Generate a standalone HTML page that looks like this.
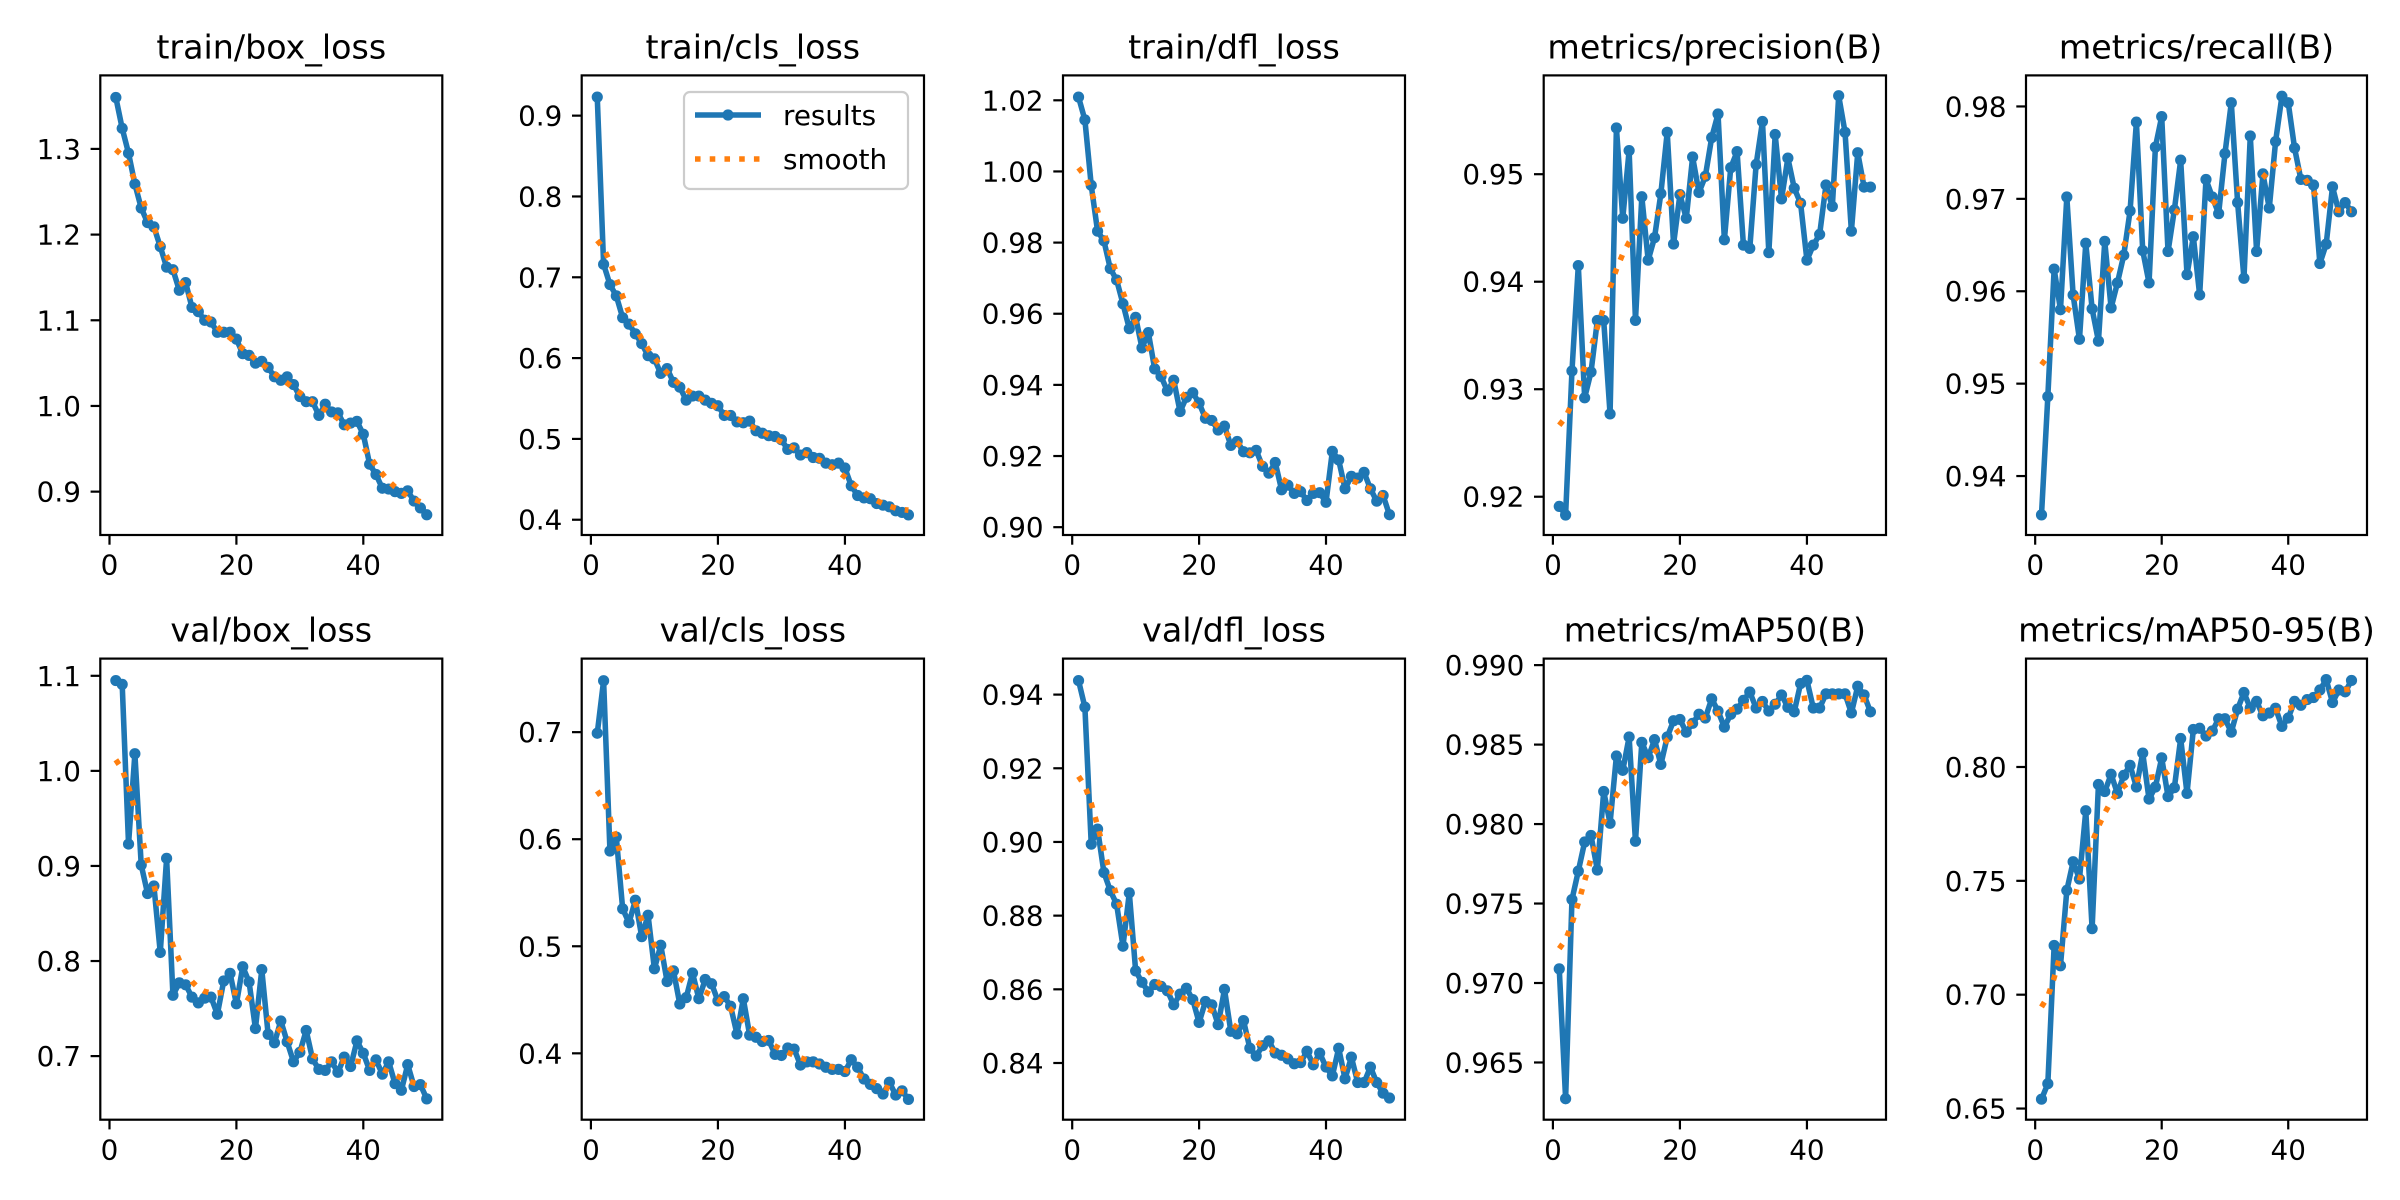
<!DOCTYPE html>
<html><head><meta charset="utf-8">
<style>
html,body{margin:0;padding:0;background:#fff;}
svg{display:block;}
text{font-family:"DejaVu Sans","Liberation Sans",sans-serif;fill:#000;}
</style></head>
<body>
<svg id="fig" width="2400" height="1200" viewBox="0 0 2400 1200" xmlns="http://www.w3.org/2000/svg"></svg>
<script>
const epochs = Array.from({length:50},(_,i)=>i+1);
const xTicks = [0,20,40];

const trainBoxLoss = [1.360,1.324,1.295,1.259,1.231,1.214,1.209,1.186,1.162,1.159,1.135,1.144,1.115,1.110,1.100,1.098,1.086,1.086,1.086,1.078,1.061,1.059,1.050,1.052,1.045,1.034,1.030,1.034,1.025,1.011,1.005,1.005,0.989,1.002,0.993,0.992,0.978,0.980,0.982,0.967,0.932,0.920,0.904,0.903,0.900,0.898,0.901,0.889,0.881,0.873];
const trainClsLoss = [0.923,0.716,0.691,0.677,0.650,0.642,0.630,0.618,0.603,0.599,0.581,0.587,0.570,0.564,0.548,0.553,0.553,0.548,0.544,0.541,0.529,0.529,0.521,0.520,0.522,0.510,0.507,0.504,0.503,0.499,0.487,0.489,0.480,0.483,0.477,0.476,0.470,0.468,0.470,0.464,0.442,0.430,0.427,0.426,0.420,0.418,0.416,0.411,0.409,0.406];
const trainDflLoss = [1.0209,1.0145,0.9961,0.9832,0.9805,0.9727,0.9695,0.9628,0.9558,0.9590,0.9504,0.9547,0.9445,0.9424,0.9383,0.9413,0.9325,0.9365,0.9378,0.9349,0.9306,0.9300,0.9273,0.9284,0.9230,0.9241,0.9212,0.9209,0.9216,0.9171,0.9152,0.9182,0.9105,0.9118,0.9095,0.9100,0.9075,0.9095,0.9097,0.9070,0.9213,0.9189,0.9108,0.9143,0.9138,0.9154,0.9108,0.9073,0.9089,0.9035];
const precisionB = [0.9191,0.9183,0.9317,0.9415,0.9292,0.9316,0.9364,0.9364,0.9277,0.9543,0.9459,0.9522,0.9364,0.9479,0.9420,0.9441,0.9482,0.9539,0.9435,0.9481,0.9459,0.9516,0.9483,0.9498,0.9534,0.9556,0.9439,0.9506,0.9521,0.9434,0.9431,0.9509,0.9549,0.9427,0.9537,0.9477,0.9515,0.9487,0.9473,0.9420,0.9434,0.9444,0.9490,0.9470,0.9573,0.9539,0.9447,0.9520,0.9488,0.9488];
const recallB = [0.9358,0.9486,0.9624,0.9580,0.9702,0.9596,0.9548,0.9652,0.9581,0.9546,0.9654,0.9582,0.9609,0.9639,0.9687,0.9783,0.9644,0.9609,0.9756,0.9789,0.9643,0.9688,0.9742,0.9618,0.9659,0.9596,0.9721,0.9702,0.9684,0.9749,0.9804,0.9696,0.9614,0.9768,0.9643,0.9727,0.9690,0.9762,0.9811,0.9804,0.9755,0.9721,0.9720,0.9715,0.9630,0.9651,0.9713,0.9686,0.9696,0.9686];
const valBoxLoss = [1.095,1.091,0.923,1.018,0.901,0.871,0.879,0.809,0.908,0.764,0.777,0.775,0.762,0.756,0.761,0.762,0.744,0.779,0.787,0.755,0.794,0.778,0.729,0.791,0.723,0.714,0.737,0.715,0.694,0.704,0.727,0.697,0.686,0.685,0.694,0.683,0.699,0.689,0.716,0.703,0.685,0.696,0.681,0.694,0.671,0.664,0.691,0.668,0.670,0.655];
const valClsLoss = [0.699,0.748,0.589,0.602,0.535,0.522,0.543,0.509,0.529,0.479,0.501,0.467,0.477,0.446,0.452,0.475,0.451,0.469,0.465,0.449,0.453,0.444,0.418,0.451,0.417,0.415,0.411,0.412,0.399,0.398,0.405,0.404,0.389,0.392,0.392,0.390,0.387,0.385,0.385,0.383,0.394,0.387,0.376,0.371,0.367,0.362,0.373,0.361,0.365,0.357];
const valDflLoss = [0.9438,0.9366,0.8994,0.9035,0.8917,0.8868,0.8831,0.8717,0.8862,0.8650,0.8619,0.8593,0.8613,0.8608,0.8596,0.8558,0.8587,0.8603,0.8572,0.8510,0.8567,0.8558,0.8504,0.8600,0.8486,0.8479,0.8515,0.8440,0.8419,0.8447,0.8460,0.8427,0.8421,0.8411,0.8398,0.8401,0.8432,0.8395,0.8427,0.8389,0.8365,0.8440,0.8357,0.8416,0.8347,0.8347,0.8389,0.8347,0.8318,0.8305];
const mAP50B = [0.97089,0.96272,0.97525,0.97704,0.97887,0.97928,0.97711,0.98205,0.98005,0.98428,0.98338,0.98548,0.97892,0.98514,0.98418,0.98531,0.98375,0.98548,0.98650,0.98658,0.98578,0.98634,0.98691,0.98667,0.98788,0.98711,0.98610,0.98691,0.98723,0.98778,0.98831,0.98730,0.98771,0.98711,0.98754,0.98812,0.98735,0.98706,0.98884,0.98904,0.98730,0.98730,0.98819,0.98819,0.98819,0.98819,0.98699,0.98867,0.98812,0.98706];
const mAP5095B = [0.6541,0.6609,0.7216,0.7127,0.7458,0.7584,0.7508,0.7808,0.7290,0.7923,0.7892,0.7968,0.7884,0.7963,0.8007,0.7912,0.8061,0.7859,0.7912,0.8040,0.7870,0.7909,0.8125,0.7884,0.8165,0.8170,0.8136,0.8158,0.8212,0.8212,0.8153,0.8254,0.8327,0.8259,0.8288,0.8225,0.8237,0.8258,0.8178,0.8215,0.8288,0.8271,0.8296,0.8305,0.8338,0.8384,0.8283,0.8338,0.8330,0.8380];

const titles = ["train/box_loss","train/cls_loss","train/dfl_loss","metrics/precision(B)","metrics/recall(B)","val/box_loss","val/cls_loss","val/dfl_loss","metrics/mAP50(B)","metrics/mAP50-95(B)"];
const yTicks1 = [0.9,1.0,1.1,1.2,1.3];
const yTicks2 = [0.4,0.5,0.6,0.7,0.8,0.9];
const yTicks3 = [0.90,0.92,0.94,0.96,0.98,1.00,1.02];
const yTicks4 = [0.92,0.93,0.94,0.95];
const yTicks5 = [0.94,0.95,0.96,0.97,0.98];
const yTicks6 = [0.7,0.8,0.9,1.0,1.1];
const yTicks7 = [0.4,0.5,0.6,0.7];
const yTicks8 = [0.84,0.86,0.88,0.90,0.92,0.94];
const yTicks9 = [0.965,0.970,0.975,0.980,0.985,0.990];
const yTicks10 = [0.65,0.70,0.75,0.80];
const yDomain1 = [0.8494,1.3858];
const yDomain2 = [0.3811,0.9498];
const yDomain3 = [0.8978,1.0270];
const yDomain4 = [0.91644,0.95919];
const yDomain5 = [0.93362,0.98336];
const yDomain6 = [0.6331,1.1181];
const yDomain7 = [0.338,0.7687];
const yDomain8 = [0.82461,0.94977];
const yDomain9 = [0.9614,0.99041];
const yDomain10 = [0.6451,0.8476];
const xDomain = [-1.45,52.45];

const series = [trainBoxLoss,trainClsLoss,trainDflLoss,precisionB,recallB,valBoxLoss,valClsLoss,valDflLoss,mAP50B,mAP5095B];
const yTicksAll = [yTicks1,yTicks2,yTicks3,yTicks4,yTicks5,yTicks6,yTicks7,yTicks8,yTicks9,yTicks10];
const yDomains = [yDomain1,yDomain2,yDomain3,yDomain4,yDomain5,yDomain6,yDomain7,yDomain8,yDomain9,yDomain10];
const decimals = [1,1,2,2,2,1,1,2,3,2];
const slugs = ["train-box-loss","train-cls-loss","train-dfl-loss","precision","recall","val-box-loss","val-cls-loss","val-dfl-loss","map50","map50-95"];

const colL=[100.3,581.7,1063,1543.7,2026], colR=[442.3,924,1405,1886,2367];
const rowT=[75.4,658.6], rowB=[535,1119.7];
const NS="http://www.w3.org/2000/svg";
const svg=document.getElementById('fig');
function mk(tag,attrs,parent){const e=document.createElementNS(NS,tag);for(const k in attrs)e.setAttribute(k,attrs[k]);(parent||svg).appendChild(e);return e;}

function gauss(y,sigma){
  const r=Math.round(4*sigma);const w=[];let s=0;
  for(let i=-r;i<=r;i++){const v=Math.exp(-0.5*i*i/(sigma*sigma));w.push(v);s+=v;}
  const n=y.length;const out=[];
  const idx=j=>{while(j<0||j>=n){if(j<0)j=-j-1;if(j>=n)j=2*n-j-1;}return j;};
  for(let k=0;k<n;k++){let a=0;for(let i=-r;i<=r;i++)a+=w[i+r]*y[idx(k+i)];out.push(a/s);}
  return out;
}

for(let p=0;p<10;p++){
  const c=p%5, r=Math.floor(p/5);
  const L=colL[c],R=colR[c],T=rowT[r],B=rowB[r];
  const dom=yDomains[p];
  const xs=v=>L+(v-xDomain[0])/(xDomain[1]-xDomain[0])*(R-L);
  const ys=v=>B-(v-dom[0])/(dom[1]-dom[0])*(B-T);
  const g=mk('g',{});
  
  
  const t=mk('text',{x:(L+R)/2,y:T-17,'text-anchor':'middle','font-size':'33.3'},g);
  t.textContent=titles[p];
  
  
  xTicks.forEach(v=>{
    const x=xs(v);
    const tk=mk('line',{x1:x,x2:x,y1:B,y2:B+9.7,stroke:'#000','stroke-width':2.2},g);
    
    
    const tl=mk('text',{x:x,y:B+19.4+20.3,'text-anchor':'middle','font-size':'27.8'},g);
    tl.textContent=String(v);
    
    
  });
  yTicksAll[p].forEach(v=>{
    const y=ys(v);
    const tk=mk('line',{x1:L-9.7,x2:L,y1:y,y2:y,stroke:'#000','stroke-width':2.2},g);
    
    
    const tl=mk('text',{x:L-19.4,y:y+10,'text-anchor':'end','font-size':'27.8'},g);
    tl.textContent=v.toFixed(decimals[p]);
    
    
  });
  const ys_=series[p];
  const d=ys_.map((v,i)=>(i?'L':'M')+xs(epochs[i]).toFixed(2)+' '+ys(v).toFixed(2)).join(' ');
  const line=mk('path',{d:d,fill:'none',stroke:'#1f77b4','stroke-width':5.56,'stroke-linejoin':'round','stroke-linecap':'square'},g);
  
  
  ys_.forEach((v,i)=>{
    const m=mk('circle',{cx:xs(epochs[i]),cy:ys(v),r:5.6,fill:'#1f77b4'},g);
    
    
  });
  const sm=gauss(ys_,3);
  const d2=sm.map((v,i)=>(i?'L':'M')+xs(epochs[i]).toFixed(2)+' '+ys(v).toFixed(2)).join(' ');
  const sl=mk('path',{d:d2,fill:'none',stroke:'#ff7f0e','stroke-width':5.56,'stroke-dasharray':'5.56 9.17'},g);
  
  
  const fr=mk('rect',{x:L,y:T,width:R-L,height:B-T,fill:'none',stroke:'#000','stroke-width':2.2},g);
  
  
}

const lg=mk('g',{});


mk('rect',{x:684,y:92,width:224,height:97,rx:6,fill:'#fff','fill-opacity':0.8,stroke:'#cccccc','stroke-width':2.2},lg);
const le1=mk('g',{},lg);


mk('line',{x1:695,x2:761,y1:115,y2:115,stroke:'#1f77b4','stroke-width':5.56},le1);
mk('circle',{cx:728,cy:115,r:5.6,fill:'#1f77b4'},le1);
const t1=mk('text',{x:783,y:125,'font-size':'27.8'},le1);t1.textContent='results';
const le2=mk('g',{},lg);


mk('line',{x1:695,x2:761,y1:159,y2:159,stroke:'#ff7f0e','stroke-width':5.56,'stroke-dasharray':'5.56 9.17'},le2);
const t2=mk('text',{x:783,y:169,'font-size':'27.8'},le2);t2.textContent='smooth';
</script>
</body></html>
